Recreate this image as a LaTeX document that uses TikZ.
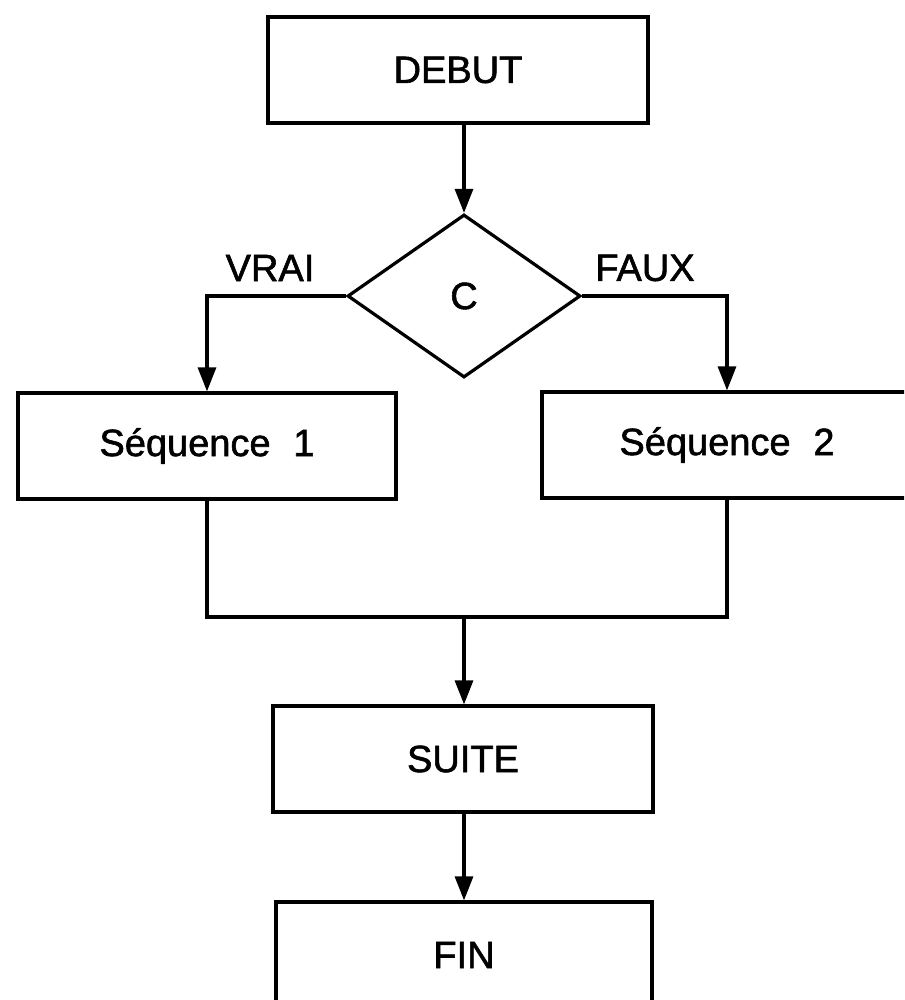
\documentclass[tikz,border=0pt]{standalone}
\usepackage{fontspec}
\setmainfont{Liberation Sans}
\usetikzlibrary{shapes.geometric,arrows.meta}
\begin{document}
\begin{tikzpicture}[x=1pt,y=-1pt,
  line width=3.2pt,
  txt/.style={font=\fontsize{38}{42}\selectfont\addfontfeatures{FakeBold=1.5}},
  box/.style={draw,rectangle,txt,inner sep=0pt,minimum height=106pt,minimum width=#1},
  test/.style={draw,diamond,txt,inner sep=0pt,minimum width=233pt,minimum height=163pt},
  lbl/.style={txt,inner sep=0pt},
  flow/.style={-{Triangle[length=24pt,width=18pt]}}
]
\useasboundingbox (0,0) rectangle (904,1000);
\clip (0,0) rectangle (904,1000);

% blocks
\node[box=380pt] (debut) at (458,70) {DEBUT};
\node[test] (cond) at (464,296) {C};
\node[box=378pt] (seq1) at (207,446) {Séquence\hspace{0.6em}1};
\node[box=370pt] (seq2) at (727,445) {Séquence\hspace{0.6em}2};
\node[box=380pt] (suite) at (463,759) {SUITE};
\node[box=376pt] (fin) at (464,955) {FIN};

% branch labels
\node[lbl] (vrai) at (270,268) {VRAI};
\node[lbl] (faux) at (645,268) {FAUX};

% helper points of the two branches and the join
\coordinate (lturn) at (seq1.north |- cond.west);
\coordinate (rturn) at (seq2.north |- cond.east);
\coordinate (join) at (cond.south |- 0,617);

% connectors
\draw[flow] (cond.north |- debut.south) -- (cond.north);
\draw[flow] (cond.west) -- (lturn) -- (seq1.north);
\draw[flow] (cond.east) -- (rturn) -- (seq2.north);
\draw (seq1.south) -- (seq1.south |- join) -- (seq2.south |- join) -- (seq2.south);
\draw[flow] (join) -- (join |- suite.north);
\draw[flow] (join |- suite.south) -- (join |- fin.north);
\end{tikzpicture}
\end{document}
